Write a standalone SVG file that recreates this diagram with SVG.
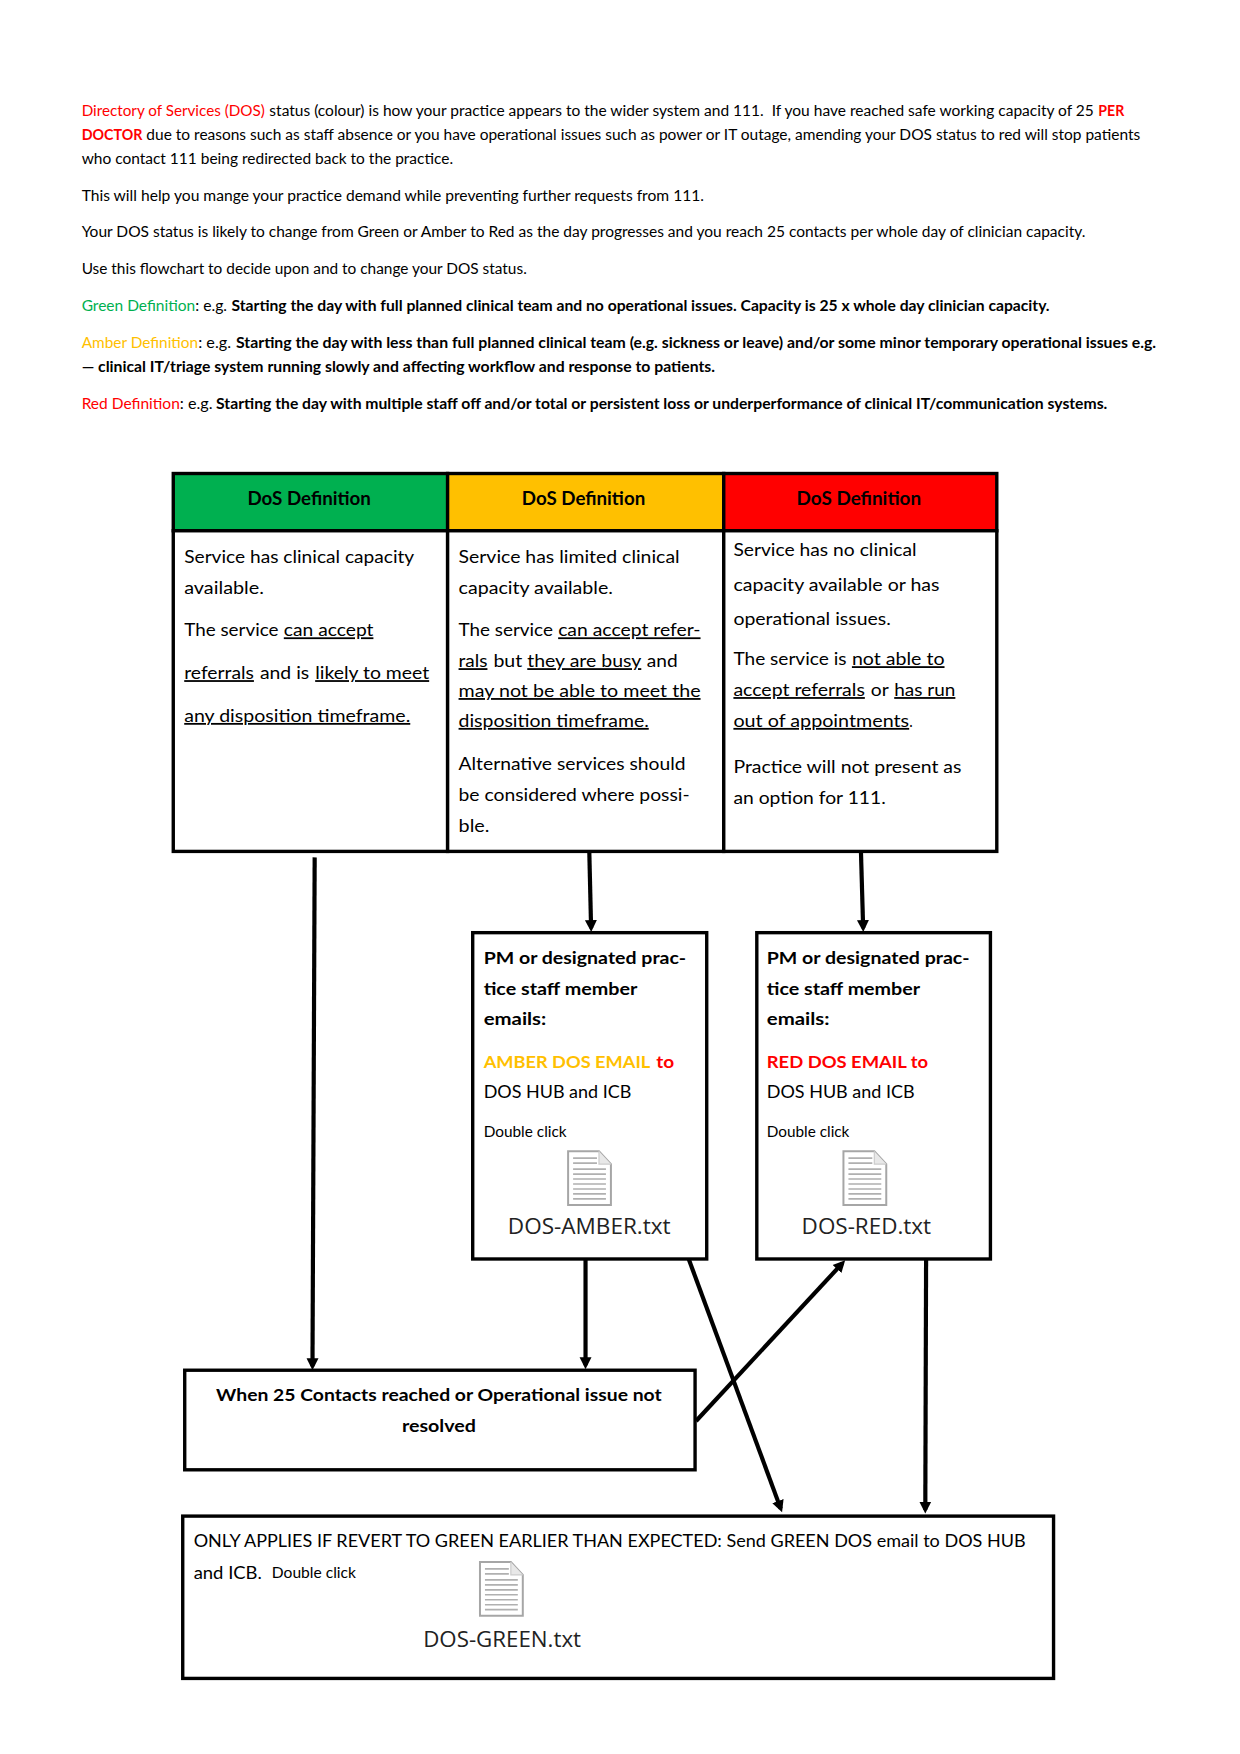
<svg xmlns="http://www.w3.org/2000/svg" xmlns:xlink="http://www.w3.org/1999/xlink" width="1240" height="1754" viewBox="0 0 1240 1754">
<style>
text{font-family:"Lato","Liberation Sans",sans-serif;fill:#000}
.i{font-size:15px}
.c{font-size:18px}
.h{font-size:18.5px;font-weight:700}
.b{font-weight:700}
.u{text-decoration:underline;text-decoration-skip-ink:none}
.s{font-size:15px}
.l{font-family:"Open Sans","Liberation Sans",sans-serif;font-size:21px;fill:#222}
.red{fill:#f00}
.amb{fill:#ffc000}
.grn{fill:#00b050}
.box{fill:#fff;stroke:#000;stroke-width:3.4}
.hb{stroke:#000;stroke-width:3.4}
.con{fill:none;stroke:#000;stroke-width:4.2;marker-end:url(#ah)}
.dl{stroke:#b0b0b0;stroke-width:1.7}
</style>
<defs>
<marker id="ah" markerUnits="userSpaceOnUse" markerWidth="14" markerHeight="14" refX="8" refY="6.5" orient="auto"><path d="M0 0.5L12 6.5L0 12.5z" fill="#000"/></marker>
<g id="doc">
<path d="M1 1H32L44 14V55H1z" fill="#fff" stroke="#a6a6a6" stroke-width="2"/>
<path d="M32 1V14H44" fill="#e8e8e8" stroke="#ccc" stroke-width="1.2"/>
<path class="dl" d="M6 8H30M6 13H30M6 19H39M6 24H39M6 29H39M6 34H39M6 39H39M6 44H39M6 49H39"/>
</g>
</defs>
<rect width="1240" height="1754" fill="#fff"/>
<g transform="scale(0.9958)">
<g id="intro">
<text class="i red" x="82" y="116.3" textLength="184" lengthAdjust="spacingAndGlyphs">Directory of Services (DOS)</text>
<text class="i" x="270.5" y="116.3" textLength="828" lengthAdjust="spacingAndGlyphs" xml:space="preserve">status (colour) is how your practice appears to the wider system and 111.  If you have reached safe working capacity of 25</text>
<text class="i b red" x="1103" y="116.3" textLength="26" lengthAdjust="spacingAndGlyphs">PER</text>
<text class="i b red" x="82" y="141" textLength="61" lengthAdjust="spacingAndGlyphs">DOCTOR</text>
<text class="i" x="147" y="141" textLength="998" lengthAdjust="spacingAndGlyphs">due to reasons such as staff absence or you have operational issues such as power or IT outage, amending your DOS status to red will stop patients</text>
<text class="i" x="82" y="165" textLength="373" lengthAdjust="spacingAndGlyphs">who contact 111 being redirected back to the practice.</text>
<text class="i" x="82" y="201.5" textLength="625" lengthAdjust="spacingAndGlyphs">This will help you mange your practice demand while preventing further requests from 111.</text>
<text class="i" x="82" y="238.5" textLength="1008" lengthAdjust="spacingAndGlyphs">Your DOS status is likely to change from Green or Amber to Red as the day progresses and you reach 25 contacts per whole day of clinician capacity.</text>
<text class="i" x="82" y="275.5" textLength="447" lengthAdjust="spacingAndGlyphs">Use this flowchart to decide upon and to change your DOS status.</text>
<text class="i grn" x="82" y="312" textLength="114" lengthAdjust="spacingAndGlyphs">Green Definition</text>
<text class="i" x="196" y="312" textLength="32" lengthAdjust="spacingAndGlyphs">: e.g.</text>
<text class="i b" x="232.5" y="312" textLength="821.5" lengthAdjust="spacingAndGlyphs">Starting the day with full planned clinical team and no operational issues. Capacity is 25 x whole day clinician capacity.</text>
<text class="i amb" x="82" y="349" textLength="117" lengthAdjust="spacingAndGlyphs">Amber Definition</text>
<text class="i" x="199" y="349" textLength="33" lengthAdjust="spacingAndGlyphs">: e.g.</text>
<text class="i b" x="237" y="349" textLength="924" lengthAdjust="spacingAndGlyphs">Starting the day with less than full planned clinical team (e.g. sickness or leave) and/or some minor temporary operational issues e.g.</text>
<text class="i b" x="82" y="373.5" textLength="636" lengthAdjust="spacingAndGlyphs">— clinical IT/triage system running slowly and affecting workflow and response to patients.</text>
<text class="i red" x="82" y="410.5" textLength="98.6" lengthAdjust="spacingAndGlyphs">Red Definition</text>
<text class="i" x="180.6" y="410.5" textLength="32.9" lengthAdjust="spacingAndGlyphs">: e.g.</text>
<text class="i b" x="217" y="410.5" textLength="895" lengthAdjust="spacingAndGlyphs">Starting the day with multiple staff off and/or total or persistent loss or underperformance of clinical IT/communication systems.</text>
</g>
<g id="connectors">
<path class="con" d="M316 861L313.8 1372"/>
<path class="con" d="M591.8 856L593.6 932"/>
<path class="con" d="M864.6 856L866.8 932"/>
<path class="con" d="M588 1264V1371"/>
<path class="con" d="M691.5 1264L784 1515"/>
<path class="con" d="M699 1427L846 1268.5"/>
<path class="con" d="M930 1264L929.2 1516"/>
</g>
<g id="def-green">
<rect x="174" y="475.5" width="275.5" height="57.5" fill="#00b050" class="hb"/>
<rect x="174" y="533" width="275.5" height="322" class="box"/>
<text class="h" x="248.5" y="507" textLength="124" lengthAdjust="spacingAndGlyphs">DoS Definition</text>
<text class="c" x="185" y="565" textLength="231" lengthAdjust="spacingAndGlyphs">Service has clinical capacity</text>
<text class="c" x="185" y="596.5" textLength="80" lengthAdjust="spacingAndGlyphs">available.</text>
<text class="c" x="185" y="639" textLength="94.6" lengthAdjust="spacingAndGlyphs">The service</text>
<text class="c u" x="285" y="639" textLength="90" lengthAdjust="spacingAndGlyphs">can accept</text>
<text class="c u" x="185" y="682" textLength="70" lengthAdjust="spacingAndGlyphs">referrals</text>
<text class="c" x="261" y="682" textLength="49.5" lengthAdjust="spacingAndGlyphs">and is</text>
<text class="c u" x="316.5" y="682" textLength="114.5" lengthAdjust="spacingAndGlyphs">likely to meet</text>
<text class="c u" x="185" y="725" textLength="227" lengthAdjust="spacingAndGlyphs">any disposition timeframe.</text>
</g>
<g id="def-amber">
<rect x="449.5" y="475.5" width="277.3" height="57.5" fill="#ffc000" class="hb"/>
<rect x="449.5" y="533" width="277.3" height="322" class="box"/>
<text class="h" x="524" y="507" textLength="124" lengthAdjust="spacingAndGlyphs">DoS Definition</text>
<text class="c" x="460.5" y="565" textLength="222" lengthAdjust="spacingAndGlyphs">Service has limited clinical</text>
<text class="c" x="460.5" y="596.5" textLength="155" lengthAdjust="spacingAndGlyphs">capacity available.</text>
<text class="c" x="460.5" y="639" textLength="94.7" lengthAdjust="spacingAndGlyphs">The service</text>
<text class="c u" x="560.5" y="639" textLength="143" lengthAdjust="spacingAndGlyphs">can accept refer-</text>
<text class="c u" x="460.5" y="670" textLength="29" lengthAdjust="spacingAndGlyphs">rals</text>
<text class="c" x="495.5" y="670" textLength="29" lengthAdjust="spacingAndGlyphs">but</text>
<text class="c u" x="529.5" y="670" textLength="114.5" lengthAdjust="spacingAndGlyphs">they are busy</text>
<text class="c" x="649.5" y="670" textLength="31" lengthAdjust="spacingAndGlyphs">and</text>
<text class="c u" x="460.5" y="700" textLength="243" lengthAdjust="spacingAndGlyphs">may not be able to meet the</text>
<text class="c u" x="460.5" y="730" textLength="191" lengthAdjust="spacingAndGlyphs">disposition timeframe.</text>
<text class="c" x="460.5" y="773" textLength="228" lengthAdjust="spacingAndGlyphs">Alternative services should</text>
<text class="c" x="460.5" y="804" textLength="232" lengthAdjust="spacingAndGlyphs">be considered where possi-</text>
<text class="c" x="460.5" y="836" textLength="31" lengthAdjust="spacingAndGlyphs">ble.</text>
</g>
<g id="def-red">
<rect x="726.8" y="475.5" width="274.2" height="57.5" fill="#f00" class="hb"/>
<rect x="726.8" y="533" width="274.2" height="322" class="box"/>
<text class="h" x="800" y="507" textLength="125" lengthAdjust="spacingAndGlyphs">DoS Definition</text>
<text class="c" x="736.5" y="558" textLength="184" lengthAdjust="spacingAndGlyphs">Service has no clinical</text>
<text class="c" x="736.5" y="593" textLength="207" lengthAdjust="spacingAndGlyphs">capacity available or has</text>
<text class="c" x="736.5" y="628" textLength="158" lengthAdjust="spacingAndGlyphs">operational issues.</text>
<text class="c" x="736.5" y="668" textLength="113.6" lengthAdjust="spacingAndGlyphs">The service is</text>
<text class="c u" x="855.5" y="668" textLength="93" lengthAdjust="spacingAndGlyphs">not able to</text>
<text class="c u" x="736.5" y="699" textLength="132" lengthAdjust="spacingAndGlyphs">accept referrals</text>
<text class="c" x="874.5" y="699" textLength="18" lengthAdjust="spacingAndGlyphs">or</text>
<text class="c u" x="898" y="699" textLength="61.4" lengthAdjust="spacingAndGlyphs">has run</text>
<text class="c u" x="736.5" y="730" textLength="176.5" lengthAdjust="spacingAndGlyphs">out of appointments</text>
<text class="c" x="913" y="730" textLength="3.5" lengthAdjust="spacingAndGlyphs">.</text>
<text class="c" x="736.5" y="776.5" textLength="229" lengthAdjust="spacingAndGlyphs">Practice will not present as</text>
<text class="c" x="736.5" y="807.5" textLength="153" lengthAdjust="spacingAndGlyphs">an option for 111.</text>
</g>
<g id="email-amber">
<rect x="474.7" y="936.6" width="235" height="327.7" class="box"/>
<text class="c b" x="485.7" y="968.5" textLength="203.3" lengthAdjust="spacingAndGlyphs">PM or designated prac-</text>
<text class="c b" x="485.7" y="999" textLength="154.3" lengthAdjust="spacingAndGlyphs">tice staff member</text>
<text class="c b" x="485.7" y="1029.5" textLength="62.9" lengthAdjust="spacingAndGlyphs">emails:</text>
<text class="c b amb" x="485.7" y="1073" textLength="167.3" lengthAdjust="spacingAndGlyphs">AMBER DOS EMAIL</text>
<text class="c b red" x="659" y="1073" textLength="18" lengthAdjust="spacingAndGlyphs">to</text>
<text class="c" x="485.7" y="1103" textLength="148.3" lengthAdjust="spacingAndGlyphs">DOS HUB and ICB</text>
<text class="s" x="485.7" y="1142" textLength="83.3" lengthAdjust="spacingAndGlyphs">Double click</text>
<use href="#doc" xlink:href="#doc" x="569.5" y="1155"/>
<text class="l" x="510" y="1239.5" textLength="163.5" lengthAdjust="spacingAndGlyphs">DOS-AMBER.txt</text>
</g>
<g id="email-red">
<rect x="760" y="936.6" width="234.6" height="327.7" class="box"/>
<text class="c b" x="770" y="968.5" textLength="203.6" lengthAdjust="spacingAndGlyphs">PM or designated prac-</text>
<text class="c b" x="770" y="999" textLength="154" lengthAdjust="spacingAndGlyphs">tice staff member</text>
<text class="c b" x="770" y="1029.5" textLength="63" lengthAdjust="spacingAndGlyphs">emails:</text>
<text class="c b red" x="770" y="1073" textLength="162" lengthAdjust="spacingAndGlyphs">RED DOS EMAIL to</text>
<text class="c" x="770" y="1103" textLength="148.5" lengthAdjust="spacingAndGlyphs">DOS HUB and ICB</text>
<text class="s" x="770" y="1142" textLength="83" lengthAdjust="spacingAndGlyphs">Double click</text>
<use href="#doc" xlink:href="#doc" x="846" y="1155"/>
<text class="l" x="805" y="1239.5" textLength="130" lengthAdjust="spacingAndGlyphs">DOS-RED.txt</text>
</g>
<g id="contacts-reached">
<rect x="185.5" y="1376" width="512.5" height="100" class="box"/>
<text class="c b" x="217" y="1407" textLength="447.5" lengthAdjust="spacingAndGlyphs">When 25 Contacts reached or Operational issue not</text>
<text class="c b" x="403.6" y="1438" textLength="74.4" lengthAdjust="spacingAndGlyphs">resolved</text>
</g>
<g id="revert-green">
<rect x="183.5" y="1522.5" width="874.5" height="163" class="box"/>
<text class="c" x="194.5" y="1554" textLength="835.5" lengthAdjust="spacingAndGlyphs">ONLY APPLIES IF REVERT TO GREEN EARLIER THAN EXPECTED: Send GREEN DOS email to DOS HUB</text>
<text class="c" x="194.5" y="1586" textLength="68.5" lengthAdjust="spacingAndGlyphs">and ICB.</text>
<text class="s" x="273" y="1585" textLength="84.5" lengthAdjust="spacingAndGlyphs">Double click</text>
<use href="#doc" xlink:href="#doc" x="481" y="1567.5"/>
<text class="l" x="425" y="1654" textLength="158.5" lengthAdjust="spacingAndGlyphs">DOS-GREEN.txt</text>
</g>
</g>
</svg>
